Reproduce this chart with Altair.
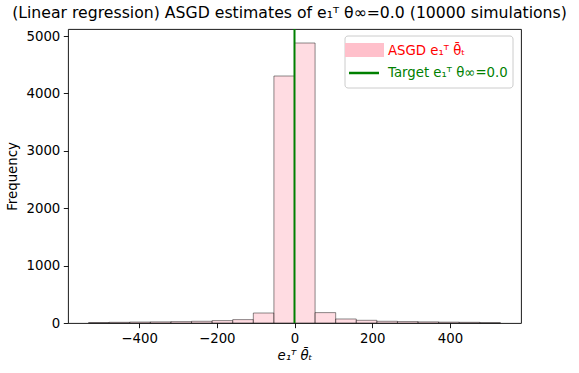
import altair as alt
import pandas as pd

# Histogram bins (edges) and counts
bin_start = [-530, -477, -424, -371, -318, -265, -212, -159, -106, -53,
             0, 53, 106, 159, 212, 265, 318, 371, 424, 477]
bin_end = [-477, -424, -371, -318, -265, -212, -159, -106, -53, 0,
           53, 106, 159, 212, 265, 318, 371, 424, 477, 530]
counts = [8, 12, 17, 20, 24, 30, 42, 59, 174, 4303,
          4878, 181, 70, 47, 30, 25, 20, 15, 12, 6]
target = [0.0]

x_ticks = [-400, -200, 0, 200, 400]
y_ticks = [0, 1000, 2000, 3000, 4000, 5000]

FONT = "DejaVu Sans"

hist_df = pd.DataFrame({"start": bin_start, "end": bin_end, "count": counts})
target_df = pd.DataFrame({"target": target})

x_scale = alt.Scale(domain=[-583, 583], nice=False, zero=False)
y_scale = alt.Scale(domain=[0, 5122], nice=False)

bars = alt.Chart(hist_df).mark_rect(
    fill="pink", fillOpacity=0.55, stroke="black", strokeOpacity=0.45, strokeWidth=1
).encode(
    x=alt.X("start:Q", scale=x_scale,
            axis=alt.Axis(values=x_ticks, format="d", title="e₁ᵀ θ̄ₜ", titleFontStyle="italic")),
    x2="end:Q",
    y=alt.Y("count:Q", scale=y_scale,
            axis=alt.Axis(values=y_ticks, format="d", title="Frequency")),
    y2=alt.datum(0),
)

vline = alt.Chart(target_df).mark_rule(color="green", strokeWidth=2).encode(
    x=alt.X("target:Q", scale=x_scale)
)

one = pd.DataFrame({"k": [0]})
leg_box = alt.Chart(one).mark_rect(
    fill="white", fillOpacity=0.8, stroke="#cccccc", strokeWidth=1, cornerRadius=3
).encode(x=alt.value(277), x2=alt.value(445), y=alt.value(7), y2=alt.value(59))
leg_patch = alt.Chart(one).mark_rect(fill="pink").encode(
    x=alt.value(277), x2=alt.value(316), y=alt.value(14), y2=alt.value(28)
)
leg_line = alt.Chart(one).mark_rule(color="green", strokeWidth=2.5).encode(
    x=alt.value(281), x2=alt.value(311), y=alt.value(44)
)
leg_t1 = alt.Chart(one).mark_text(
    align="left", baseline="alphabetic", font=FONT, fontSize=13.3, color="red"
).encode(x=alt.value(320), y=alt.value(26), text=alt.value("ASGD e₁ᵀ θ̄ₜ"))
leg_t2 = alt.Chart(one).mark_text(
    align="left", baseline="alphabetic", font=FONT, fontSize=13.3, color="green"
).encode(x=alt.value(320), y=alt.value(48), text=alt.value("Target e₁ᵀ θ∞=0.0"))

chart = alt.layer(bars, vline, leg_box, leg_patch, leg_line, leg_t1, leg_t2).properties(
    width=453,
    height=294,
    autosize=alt.AutoSizeParams(type="none"),
    padding={"left": 68, "top": 29, "right": 58, "bottom": 50},
    title=alt.TitleParams(
        "(Linear regression) ASGD estimates of e₁ᵀ θ∞=0.0 (10000 simulations)",
        font=FONT, fontSize=15.7, fontWeight="normal", color="black", offset=6, dx=-5,
    ),
).configure_view(
    stroke="black", strokeWidth=0.9
).configure_axis(
    domain=False, grid=False, ticks=True, tickColor="black", tickSize=4.7, tickWidth=0.9,
    labelFont=FONT, labelFontSize=13.3, labelColor="black", labelPadding=3.5,
    titleFont=FONT, titleFontSize=13.3, titleColor="black", titleFontWeight="normal",
).configure_axisY(titlePadding=6).configure_axisX(titlePadding=4)

chart.save("out.html", embed_options={"renderer": "svg", "actions": False})
